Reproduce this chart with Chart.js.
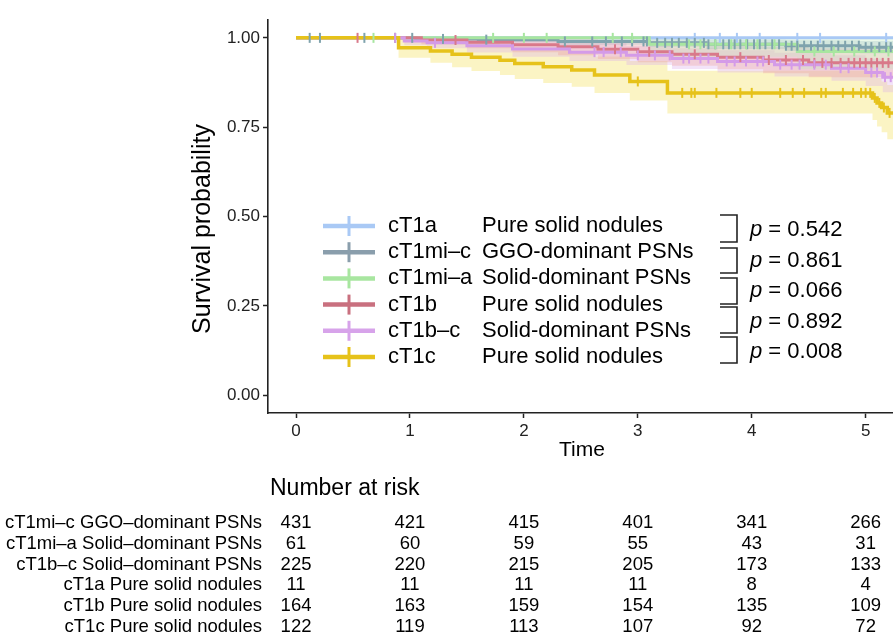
<!DOCTYPE html>
<html>
<head>
<meta charset="utf-8">
<script src="https://cdn.jsdelivr.net/npm/chart.js@4.4.1/dist/chart.umd.min.js"></script>
<style>
  html, body { margin: 0; padding: 0; background: #fff; }
  canvas { display: block; }
</style>
</head>
<body>
<canvas id="km" width="893" height="638"></canvas>
<script>
// ejes
const xTicks = [0, 1, 2, 3, 4, 5];
const yTicks = [0, 0.25, 0.5, 0.75, 1];

// curvas Kaplan-Meier (tiempo del escalón, supervivencia, IC inferior, IC superior)
const cT1aTime = [0];
const cT1aSurv = [1];
const cT1aCensor = [3.5, 3.72, 3.87, 4.07, 4.4, 4.6, 5.18];

const cT1micTime = [0, 1.05, 1.6, 2.3, 3.1, 3.6, 4.3, 4.95];
const cT1micSurv = [1, 0.997, 0.995, 0.99, 0.986, 0.982, 0.978, 0.974];
const cT1micLow  = [1, 0.992, 0.988, 0.981, 0.975, 0.969, 0.963, 0.957];
const cT1micHigh = [1, 1, 1, 0.999, 0.997, 0.995, 0.993, 0.991];
const cT1micCensor = [0.12, 0.21, 0.6, 0.87, 1.02, 1.29, 1.67, 2.36, 2.6, 2.72, 2.86, 2.95, 3.05, 3.08, 3.17, 3.24, 3.3, 3.36, 3.43, 3.5, 3.58, 3.62, 3.68, 3.75, 3.8, 3.85, 3.9, 3.96, 4.02, 4.07, 4.12, 4.18, 4.24, 4.3, 4.35, 4.4, 4.46, 4.52, 4.58, 4.63, 4.7, 4.76, 4.82, 4.88, 4.94, 5.0, 5.05, 5.12, 5.18, 5.22];

const cT1miaTime = [0, 3.1, 4.4];
const cT1miaSurv = [1, 0.982, 0.962];
const cT1miaLow  = [1, 0.947, 0.912];
const cT1miaHigh = [1, 1, 1];
const cT1miaCensor = [0.68, 1.73, 2.0, 2.2, 2.78, 2.95, 3.45, 3.55, 3.68, 3.82, 3.95, 4.05, 4.2, 4.55, 4.72, 4.9, 5.08, 5.2];

const cT1bTime = [0, 1.1, 1.5, 1.9, 2.3, 2.65, 3.0, 3.3, 3.7, 4.1, 4.5];
const cT1bSurv = [1, 0.994, 0.988, 0.981, 0.975, 0.968, 0.961, 0.954, 0.946, 0.938, 0.93];
const cT1bLow  = [1, 0.982, 0.971, 0.96, 0.951, 0.941, 0.932, 0.922, 0.912, 0.901, 0.89];
const cT1bHigh = [1, 1, 1, 1, 0.999, 0.995, 0.991, 0.987, 0.982, 0.976, 0.971];
const cT1bCensor = [0.54, 1.4, 2.8, 3.1, 3.5, 3.9, 4.15, 4.3, 4.45, 4.55, 4.62, 4.7, 4.78, 4.85, 4.9, 4.95, 5.0, 5.05, 5.1, 5.15, 5.2];

const cT1bcTime = [0, 0.95, 1.15, 1.5, 1.9, 2.4, 2.9, 3.3, 3.7, 4.2, 4.7, 5.0, 5.15];
const cT1bcSurv = [1, 0.991, 0.986, 0.978, 0.969, 0.96, 0.951, 0.942, 0.934, 0.925, 0.915, 0.903, 0.89];
const cT1bcLow  = [1, 0.979, 0.971, 0.959, 0.947, 0.935, 0.924, 0.913, 0.903, 0.892, 0.88, 0.865, 0.848];
const cT1bcHigh = [1, 1, 1, 0.997, 0.991, 0.985, 0.978, 0.971, 0.965, 0.958, 0.951, 0.942, 0.933];
const cT1bcCensor = [0.87, 1.22, 2.62, 2.7, 2.85, 3.0, 3.15, 3.28, 3.4, 3.45, 3.55, 3.62, 3.78, 3.85, 3.95, 4.05, 4.1, 4.25, 4.35, 4.42, 4.55, 4.65, 4.78, 4.85, 5.05, 5.1, 5.17, 5.22];

const cT1cTime = [0, 0.9, 1.18, 1.37, 1.54, 1.79, 1.92, 2.17, 2.42, 2.62, 2.93, 3.26, 5.06, 5.1, 5.14, 5.19];
const cT1cSurv = [1, 0.972, 0.963, 0.954, 0.946, 0.937, 0.928, 0.919, 0.91, 0.896, 0.878, 0.846, 0.832, 0.818, 0.805, 0.79];
const cT1cLow  = [1, 0.944, 0.93, 0.918, 0.907, 0.896, 0.885, 0.874, 0.863, 0.846, 0.825, 0.788, 0.77, 0.752, 0.736, 0.716];
const cT1cHigh = [1, 1, 0.996, 0.991, 0.986, 0.98, 0.973, 0.966, 0.959, 0.948, 0.935, 0.908, 0.898, 0.888, 0.878, 0.868];
const cT1cCensor = [3.0, 3.39, 3.47, 3.5, 3.69, 3.9, 4.0, 4.25, 4.36, 4.46, 4.61, 4.65, 4.8, 4.89, 4.96, 5.0, 5.04, 5.08, 5.12, 5.16, 5.21];

// leyenda y valores p
const legendCodes = ['cT1a', 'cT1mi\u2013c', 'cT1mi\u2013a', 'cT1b', 'cT1b\u2013c', 'cT1c'];
const legendTypes = ['Pure solid nodules', 'GGO-dominant PSNs', 'Solid-dominant PSNs', 'Pure solid nodules', 'Solid-dominant PSNs', 'Pure solid nodules'];
const pValues = ['0.542', '0.861', '0.066', '0.892', '0.008'];

// tabla de pacientes en riesgo
const riskLabels = ['cT1mi\u2013c GGO\u2013dominant PSNs', 'cT1mi\u2013a Solid\u2013dominant PSNs', 'cT1b\u2013c Solid\u2013dominant PSNs', 'cT1a Pure solid nodules', 'cT1b Pure solid nodules', 'cT1c Pure solid nodules'];
const riskMic = [431, 421, 415, 401, 341, 266];
const riskMia = [61, 60, 59, 55, 43, 31];
const riskBc  = [225, 220, 215, 205, 173, 133];
const riskA   = [11, 11, 11, 11, 8, 4];
const riskB   = [164, 163, 159, 154, 135, 109];
const riskC   = [122, 119, 113, 107, 92, 72];
const riskRows = [riskMic, riskMia, riskBc, riskA, riskB, riskC];

const END = 5.3;

const grupos = [
  { time: cT1aTime, surv: cT1aSurv, censor: cT1aCensor, color: '#a9c9f5', band: null },
  { time: cT1micTime, surv: cT1micSurv, low: cT1micLow, high: cT1micHigh, censor: cT1micCensor, color: '#7fa3ad', legend: '#8a9eac', band: 'rgba(140,175,185,0.25)' },
  { time: cT1miaTime, surv: cT1miaSurv, low: cT1miaLow, high: cT1miaHigh, censor: cT1miaCensor, color: '#a8e6a0', band: 'rgba(190,235,185,0.3)' },
  { time: cT1bTime, surv: cT1bSurv, low: cT1bLow, high: cT1bHigh, censor: cT1bCensor, color: '#d9798a', legend: '#c9707f', band: 'rgba(235,160,150,0.32)' },
  { time: cT1bcTime, surv: cT1bcSurv, low: cT1bcLow, high: cT1bcHigh, censor: cT1bcCensor, color: '#d49be8', legend: '#d7a3ea', band: 'rgba(220,175,235,0.35)' },
  { time: cT1cTime, surv: cT1cSurv, low: cT1cLow, high: cT1cHigh, censor: cT1cCensor, color: '#e6c21a', band: 'rgba(245,225,100,0.38)' }
];

function escalones(time, vals) {
  const pts = time.map((t, i) => ({ x: t, y: vals[i] }));
  pts.push({ x: END, y: vals[vals.length - 1] });
  return pts;
}

function survEn(time, surv, t) {
  let v = surv[0];
  for (let i = 0; i < time.length; i++) if (time[i] <= t) v = surv[i];
  return v;
}

const datasets = [];
grupos.forEach((g, k) => {
  if (g.band) {
    datasets.push({ data: escalones(g.time, g.high), stepped: true, borderWidth: 0, pointRadius: 0, fill: false, order: 30 });
    datasets.push({ data: escalones(g.time, g.low), stepped: true, borderWidth: 0, pointRadius: 0, fill: '-1', backgroundColor: g.band, order: 30 });
  }
  datasets.push({ data: escalones(g.time, g.surv), stepped: true, borderColor: g.color, borderWidth: k === 5 ? 3.5 : 3, pointRadius: 0, fill: false, order: 20 - k });
  datasets.push({
    data: g.censor.map(t => ({ x: t, y: survEn(g.time, g.surv, t) })),
    showLine: false, pointStyle: 'line', rotation: 90, pointRadius: 5,
    borderColor: g.color, pointBorderWidth: 2, order: 10 - k
  });
});

const FONT = "'Liberation Sans', Arial, sans-serif";

const kmOverlay = {
  id: 'kmOverlay',
  afterDraw(chart) {
    const { ctx } = chart;
    const x = chart.scales.x;
    ctx.save();
    ctx.fillStyle = '#000';

    // títulos de ejes
    ctx.save();
    ctx.translate(203, 229);
    ctx.rotate(-Math.PI / 2);
    ctx.font = '25px ' + FONT;
    ctx.textAlign = 'center';
    ctx.textBaseline = 'middle';
    ctx.fillText('Survival probability', 0, 0);
    ctx.restore();

    ctx.font = '21px ' + FONT;
    ctx.textAlign = 'center';
    ctx.textBaseline = 'middle';
    ctx.fillText('Time', 582, 450);

    // leyenda
    ctx.textAlign = 'left';
    ctx.font = '22px ' + FONT;
    legendCodes.forEach((code, i) => {
      const yy = 226 + i * 26.2;
      const c = grupos[i].legend || grupos[i].color;
      ctx.strokeStyle = c;
      ctx.lineWidth = 4.5;
      ctx.beginPath(); ctx.moveTo(323, yy); ctx.lineTo(375, yy); ctx.stroke();
      ctx.lineWidth = 3;
      ctx.beginPath(); ctx.moveTo(349, yy - 10); ctx.lineTo(349, yy + 10); ctx.stroke();
      ctx.fillStyle = '#000';
      ctx.fillText(code, 388, yy);
      ctx.fillText(legendTypes[i], 482, yy);
    });

    // corchetes y valores p
    const brackets = [[215, 242], [248, 273], [278, 304], [307, 333], [337, 363]];
    ctx.strokeStyle = '#222';
    ctx.lineWidth = 1.6;
    brackets.forEach((b, i) => {
      ctx.beginPath();
      ctx.moveTo(720, b[0]); ctx.lineTo(737, b[0]); ctx.lineTo(737, b[1]); ctx.lineTo(720, b[1]);
      ctx.stroke();
      const yy = 230 + i * 30.5;
      ctx.font = 'italic 22px ' + FONT;
      ctx.fillText('p', 750, yy);
      const w = ctx.measureText('p').width;
      ctx.font = '22px ' + FONT;
      ctx.fillText(' = ' + pValues[i], 750 + w, yy);
    });

    // tabla de riesgo
    ctx.font = '23px ' + FONT;
    ctx.fillText('Number at risk', 270, 489);
    ctx.font = '18.5px ' + FONT;
    riskRows.forEach((row, i) => {
      const yy = 523 + i * 20.8;
      ctx.textAlign = 'right';
      ctx.fillText(riskLabels[i], 262, yy);
      ctx.textAlign = 'center';
      row.forEach((n, j) => ctx.fillText(String(n), x.getPixelForValue(xTicks[j]), yy));
    });
    ctx.restore();
  }
};

new Chart(document.getElementById('km'), {
  type: 'line',
  data: { datasets },
  plugins: [kmOverlay],
  options: {
    responsive: false,
    animation: false,
    events: [],
    layout: { autoPadding: false, padding: { top: 20, right: 0, left: 0, bottom: 0 } },
    plugins: { legend: { display: false }, tooltip: { enabled: false } },
    scales: {
      x: {
        type: 'linear', min: -0.246, max: 5.24,
        afterBuildTicks: s => { s.ticks = xTicks.map(v => ({ value: v })); },
        afterFit: s => { s.height = 225; },
        grid: { drawOnChartArea: false, drawTicks: true, tickLength: 5, tickWidth: 1.5, tickColor: '#222' },
        border: { display: true, color: '#222', width: 1.6 },
        ticks: { padding: 3, color: '#222', font: { family: "'Liberation Sans', Arial", size: 17 } }
      },
      y: {
        type: 'linear', min: -0.05, max: 1.05,
        afterBuildTicks: s => { s.ticks = yTicks.map(v => ({ value: v })); },
        afterFit: s => { s.width = 268; },
        grid: { drawOnChartArea: false, drawTicks: true, tickLength: 5, tickWidth: 1.5, tickColor: '#222' },
        border: { display: true, color: '#222', width: 1.6 },
        ticks: { padding: 3, color: '#222', callback: v => v.toFixed(2), font: { family: "'Liberation Sans', Arial", size: 17 } }
      }
    }
  }
});
</script>
</body>
</html>
